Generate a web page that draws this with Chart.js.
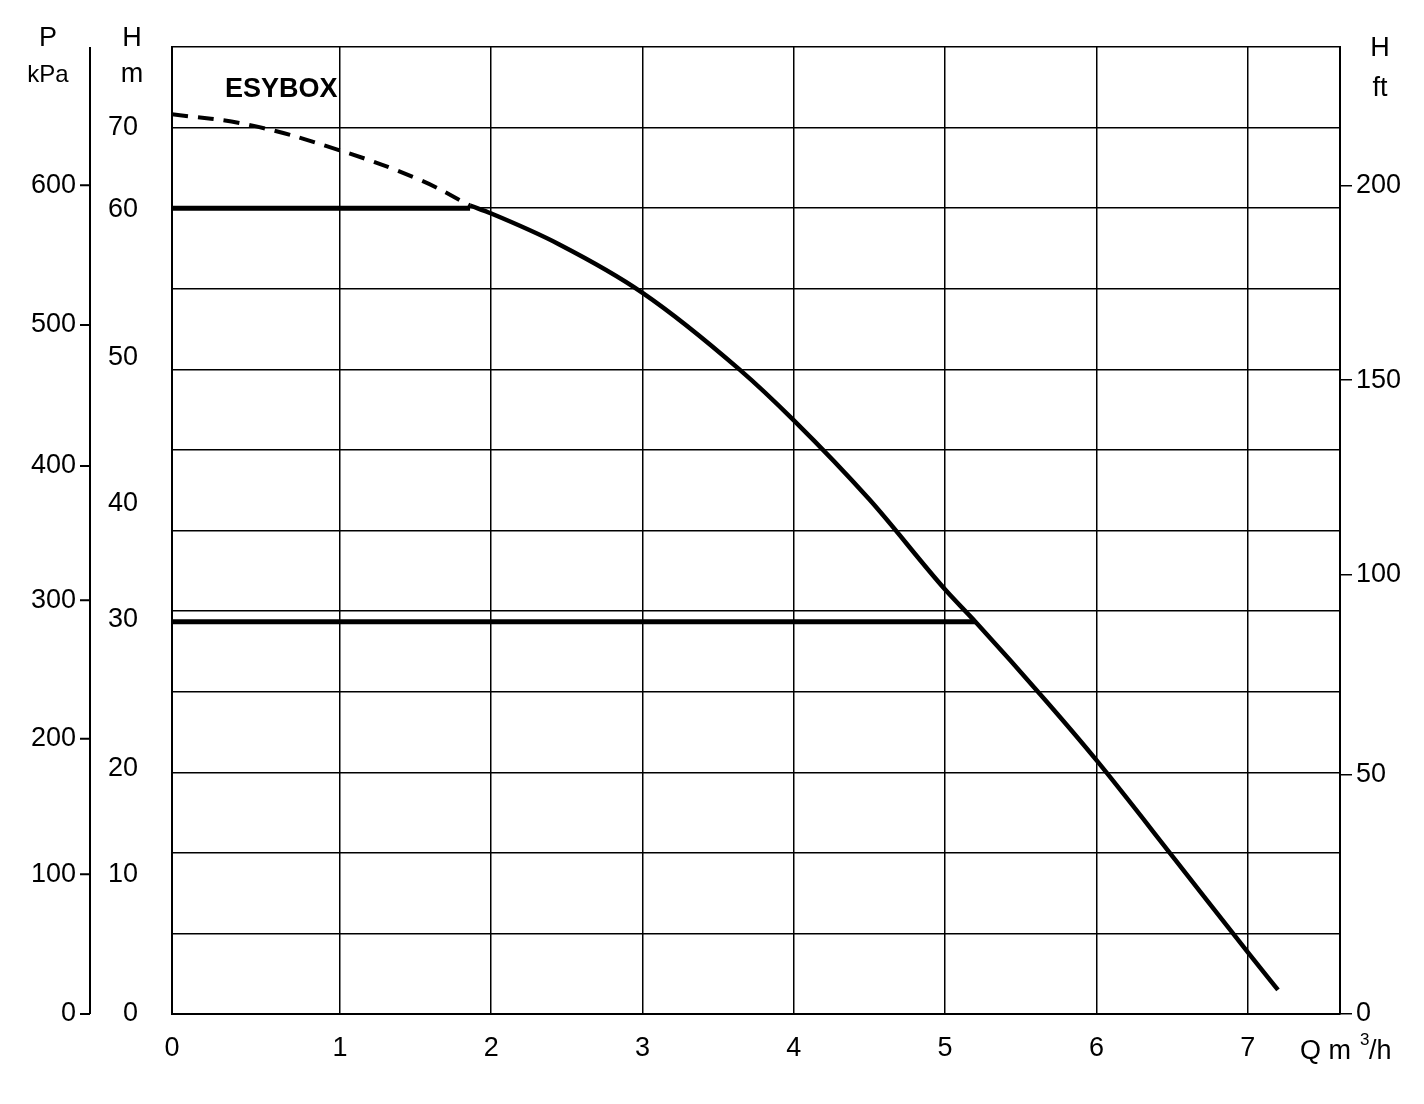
<!DOCTYPE html>
<html>
<head>
<meta charset="utf-8">
<script src="https://cdn.jsdelivr.net/npm/chart.js@4/dist/chart.umd.min.js"></script>
<style>
  html, body { margin: 0; padding: 0; background: #fff; }
  #wrap { width: 1424px; height: 1104px; }
</style>
</head>
<body>
<div id="wrap"><canvas id="pump"></canvas></div>
<script>
// pump curve, H in m against Q in m3/h
const dashedQ = [-0.11, 0.4, 1.0, 1.53, 1.86];
const dashedH = [67.0, 66.2, 64.3, 62.1, 60.2];
const curveQ = [1.86, 2.0, 2.45, 3.0, 3.64, 4.0, 4.5, 5.0, 5.2, 5.66, 6.0, 6.52, 7.0, 7.2];
const curveH = [60.2, 59.6, 57.3, 53.7, 48.0, 44.2, 38.3, 31.6, 29.2, 23.4, 18.9, 11.5, 4.6, 1.8];
const limitHighQ = [-0.11, 1.86];
const limitHighH = [60.0, 60.0];
const limitLowQ = [-0.11, 5.2];
const limitLowH = [29.2, 29.2];

// tick labels (values where the labels sit, in m)
const qTicks = [-0.11, 1, 2, 3, 4, 5, 6, 7];
const qLabels = ['0', '1', '2', '3', '4', '5', '6', '7'];
const mTickPos = [0, 10.4, 18.3, 29.4, 38.0, 48.9, 59.9, 66.0];
const mLabels = ['0', '10', '20', '30', '40', '50', '60', '70'];
const ftTickPos = [0, 17.8, 32.7, 47.2, 61.7];
const ftLabels = ['0', '50', '100', '150', '200'];
const kpaTickPos = [0, 10.4, 20.5, 30.8, 40.8, 51.3, 61.7];
const kpaLabels = ['0', '100', '200', '300', '400', '500', '600'];

const H_MAX = 72;
const FONT = { family: 'Liberation Sans', size: 27 };

function pts(xs, ys) { return xs.map((x, i) => ({ x: x, y: ys[i] })); }
function fixedTicks(pos) { return axis => { axis.ticks = pos.map(v => ({ value: v })); }; }

const textPlugin = {
  id: 'texts',
  afterDraw(chart) {
    const c = chart.ctx, a = chart.chartArea;
    const xs = chart.scales.x, ys = chart.scales.y;
    c.save();
    c.fillStyle = '#000';
    c.font = 'bold 27px "Liberation Sans Narrow", "Liberation Sans"';
    c.textAlign = 'left';
    c.textBaseline = 'middle';
    c.fillText('ESYBOX', xs.getPixelForValue(0.24), ys.getPixelForValue(68.8));
    c.font = '27px "Liberation Sans"';
    c.textAlign = 'center';
    c.fillText('P', 48, a.top - 8);
    c.font = '24px "Liberation Sans"';
    c.fillText('kPa', 48, a.top + 28);
    c.font = '27px "Liberation Sans"';
    c.fillText('H', 132, a.top - 8);
    c.fillText('m', 132, a.top + 28);
    c.fillText('H', 1380, a.top + 2);
    c.fillText('ft', 1380, a.top + 42);
    c.textAlign = 'left';
    c.fillText('Q m', 1300, a.bottom + 38);
    c.font = '17px "Liberation Sans"';
    c.fillText('3', 1360, a.bottom + 26);
    c.font = '27px "Liberation Sans"';
    c.fillText('/h', 1369, a.bottom + 38);
    c.restore();
  }
};

new Chart(document.getElementById('pump'), {
  type: 'scatter',
  data: {
    datasets: [
      { data: pts(dashedQ, dashedH), showLine: true, borderColor: '#000', borderWidth: 4, borderDash: [16, 10], pointRadius: 0, tension: 0.4 },
      { data: pts(curveQ, curveH), showLine: true, borderColor: '#000', borderWidth: 4.5, pointRadius: 0, tension: 0.4, cubicInterpolationMode: 'monotone' },
      { data: pts(limitHighQ, limitHighH), showLine: true, borderColor: '#000', borderWidth: 5, pointRadius: 0 },
      { data: pts(limitLowQ, limitLowH), showLine: true, borderColor: '#000', borderWidth: 5, pointRadius: 0 }
    ]
  },
  options: {
    responsive: true,
    maintainAspectRatio: false,
    animation: false,
    layout: { padding: { top: 47, right: 0, bottom: 0, left: 0 } },
    plugins: { legend: { display: false }, tooltip: { enabled: false } },
    scales: {
      x: {
        type: 'linear', min: -0.11, max: 7.61,
        afterBuildTicks: fixedTicks(qTicks),
        afterFit: s => { s.height = 90; },
        grid: { color: '#000', lineWidth: 1.5, drawTicks: false },
        border: { color: '#000', width: 2 },
        ticks: { color: '#000', font: FONT, padding: 18, callback: (v, i) => qLabels[i] }
      },
      y: {
        position: 'left', weight: 0, min: 0, max: H_MAX,
        ticks: { stepSize: 6, display: false },
        afterFit: s => { s.width = 0; },
        grid: { color: '#000', lineWidth: 1.5, drawTicks: false },
        border: { color: '#000', width: 2 }
      },
      m: {
        position: 'left', weight: 1, min: 0, max: H_MAX,
        afterBuildTicks: fixedTicks(mTickPos),
        afterFit: s => { s.width = 172; },
        grid: { display: false },
        border: { display: false },
        ticks: { color: '#000', font: FONT, padding: 26, callback: (v, i) => mLabels[i] }
      },
      kpa: {
        position: 'left', weight: 2, min: 0, max: H_MAX,
        afterBuildTicks: fixedTicks(kpaTickPos),
        afterFit: s => { s.width = 0; },
        display: false
      },
      ft: {
        position: 'right', min: 0, max: H_MAX,
        afterBuildTicks: fixedTicks(ftTickPos),
        afterFit: s => { s.width = 84; },
        grid: { drawOnChartArea: false, color: '#000', lineWidth: 1.5, tickLength: 12 },
        border: { color: '#000', width: 2 },
        ticks: { color: '#000', font: FONT, padding: 4, callback: (v, i) => ftLabels[i] }
      }
    }
  },
  plugins: [textPlugin, {
    id: 'kpaAxis',
    afterDraw(chart) {
      // separate kPa scale drawn on its own line left of the m labels
      const c = chart.ctx, a = chart.chartArea, ys = chart.scales.y;
      c.save();
      c.strokeStyle = '#000';
      c.lineWidth = 2;
      c.beginPath();
      c.moveTo(90, a.top);
      c.lineTo(90, a.bottom);
      kpaTickPos.forEach(v => {
        const py = ys.getPixelForValue(v);
        c.moveTo(80, py);
        c.lineTo(90, py);
      });
      c.stroke();
      c.fillStyle = '#000';
      c.font = '27px "Liberation Sans"';
      c.textAlign = 'right';
      c.textBaseline = 'middle';
      kpaTickPos.forEach((v, i) => c.fillText(kpaLabels[i], 76, ys.getPixelForValue(v)));
      c.restore();
    }
  }]
});
</script>
</body>
</html>
